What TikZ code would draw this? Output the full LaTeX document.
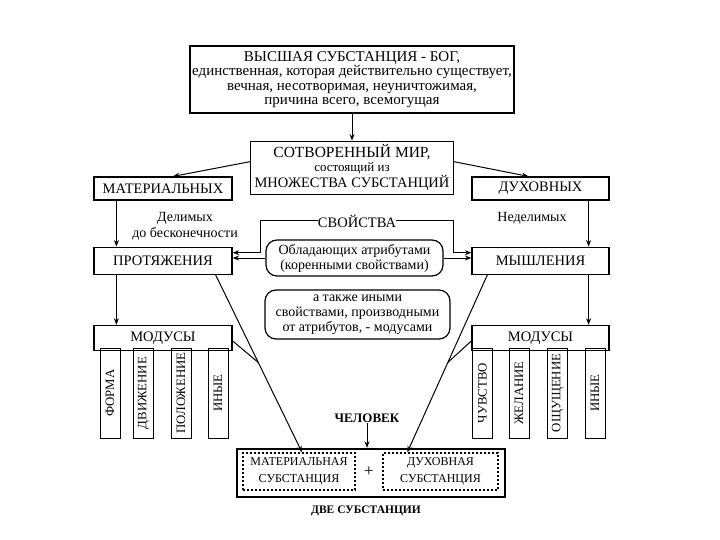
\documentclass[tikz,border=0pt]{standalone}
\usepackage{fontspec}
\setmainfont{Liberation Serif}
\usetikzlibrary{arrows.meta,positioning,calc}

\begin{document}
\begin{tikzpicture}[x=1pt, y=-1pt,
      node distance=27pt,
      box/.style={draw, line width=1.2pt, inner sep=0pt, align=center,
                  font=\fontsize{14.5}{14.5}\selectfont},
      oval/.style={box, rounded corners=11pt, font=\fontsize{14}{15}\selectfont},
      col/.style={box, line width=1pt, rotate=90, minimum width=90pt, minimum height=20pt,
                  font=\fontsize{12.8}{14}\selectfont},
      dotbox/.style={box, dash pattern=on 2pt off 2pt, line width=1.4pt,
                  minimum height=37pt, font=\fontsize{12}{17}\selectfont},
      lbl/.style={inner sep=0pt, align=center, font=\fontsize{14}{16}\selectfont},
      arr/.style={-{Stealth[length=6.5pt, width=5pt]}, line width=1pt}]
    \useasboundingbox (0,0) rectangle (720,540);

    % god and the created world
    \node[box, minimum width=324pt, minimum height=67pt, font=\fontsize{15}{14.5}\selectfont] (god) at (352,79.5)
      {ВЫСШАЯ СУБСТАНЦИЯ - БОГ,\\ единственная, которая действительно существует,\\
       вечная, несотворимая, неуничтожимая,\\ причина всего, всемогущая};
    \node[box, minimum width=203pt, minimum height=53pt, below=of god] (world)
      {{\fontsize{15.5}{14.5}\selectfont СОТВОРЕННЫЙ МИР,}\\ {\fontsize{13}{14.5}\selectfont состоящий из}\\
       МНОЖЕСТВА СУБСТАНЦИЙ};

    % two kinds of substances
    \node[box, minimum width=138pt, minimum height=23pt] (mat) at (163,188.5) {МАТЕРИАЛЬНЫХ};
    \node[box, minimum width=137pt, minimum height=23pt] (duh) at (540.5,188.5) {ДУХОВНЫХ};
    \node[box, minimum width=138pt, minimum height=27pt, below=46pt of mat] (prot) {ПРОТЯЖЕНИЯ};
    \node[box, minimum width=137pt, minimum height=27pt, below=46pt of duh] (mysl) {МЫШЛЕНИЯ};
    \node[lbl] (del) at (185,226) {Делимых\\ до бесконечности};
    \node[lbl] (nedel) at (532,218) {Неделимых};
    \node[lbl, font=\fontsize{14.5}{16}\selectfont] (svo) at (357,221) {СВОЙСТВА};

    \node[oval, minimum width=177pt, minimum height=36pt] (attr) at (354.5,258)
      {Обладающих атрибутами\\ (коренными свойствами)};
    \node[oval, minimum width=185pt, minimum height=49pt] (other) at (357.5,314.5)
      {а также иными\\ свойствами, производными\\ от атрибутов, - модусами};

    % modes
    \node[box, minimum width=138pt, minimum height=25pt, below=50pt of prot] (modL) {МОДУСЫ};
    \node[box, minimum width=137pt, minimum height=25pt, below=50pt of mysl] (modR) {МОДУСЫ};
    \foreach \txt/\x [count=\i] in {ФОРМА/110, ДВИЖЕНИЕ/143.5, ПОЛОЖЕНИЕ/181, ИНЫЕ/218}
      \node[col] (cl\i) at (\x,393) {\txt};
    \foreach \txt/\x [count=\i] in {ЧУВСТВО/482.5, ЖЕЛАНИЕ/519, ОЩУЩЕНИЕ/557.5, ИНЫЕ/595}
      \node[col] (cr\i) at (\x,393) {\txt};

    % man = two substances
    \node[lbl, font=\fontsize{13}{15}\bfseries] (chel) at (367,418) {ЧЕЛОВЕК};
    \node[box, line width=2.4pt, minimum width=268pt, minimum height=48pt] (two) at (371,473) {};
    \node[dotbox, minimum width=112pt] (matsub) at (299,471.5) {МАТЕРИАЛЬНАЯ\\ СУБСТАНЦИЯ};
    \node[dotbox, minimum width=115pt] (dusub) at (440.5,471.5) {ДУХОВНАЯ\\ СУБСТАНЦИЯ};
    \node[lbl, font=\fontsize{17}{17}\selectfont] (plus) at (369,472) {+};
    \node[lbl, font=\fontsize{11.5}{13}\bfseries] (dve) at (366,511) {ДВЕ СУБСТАНЦИИ};

    \draw[arr] (god.south) -- (god.south |- world.north);
    \draw[arr] ([yshift=6pt]world.west) -- ([xshift=10pt]mat.north);
    \draw[arr] ([yshift=6pt]world.east) -- ([xshift=-12pt]duh.north);
    \draw[arr] ([xshift=23pt]mat.south west) -- ([xshift=23pt]prot.north west);
    \draw[arr] ([xshift=-21pt]duh.south east) -- ([xshift=-21pt]mysl.north east);
    \draw[arr] (svo.west) -- ++(-57,0) |- ([yshift=8pt]prot.east);
    \draw[arr] (svo.east) -- ++(57,0) |- ([yshift=8pt]mysl.west);
    \draw[arr] (attr.west) -- (attr.west -| prot.east);
    \draw[arr] (attr.east) -- (attr.east -| mysl.west);
    \draw[arr] ([xshift=23pt]prot.south west) -- ([xshift=23pt]prot.south west |- modL.north);
    \draw[arr] ([xshift=-21pt]mysl.south east) -- ([xshift=-21pt]mysl.south east |- modR.north);

    \coordinate (pL) at ([xshift=-17pt]prot.south east);
    \coordinate (pR) at ([xshift=16pt]mysl.south west);
    \coordinate (jL) at ($(pL)!0.494!([xshift=3pt]matsub.north)$);
    \coordinate (jR) at ($(pR)!0.494!([xshift=25pt]dusub.north west)$);
    \draw[arr] (pL) -- ([xshift=3pt]matsub.north);
    \draw[arr] (pR) -- ([xshift=25pt]dusub.north west);
    \draw[line width=1pt] ([yshift=-3pt]modL.east) -- (jL);
    \draw[line width=1pt] ([yshift=-3pt]modR.west) -- (jR);
    \draw[arr] (chel.south) -- (chel.south |- two.north);
\end{tikzpicture}
\end{document}
